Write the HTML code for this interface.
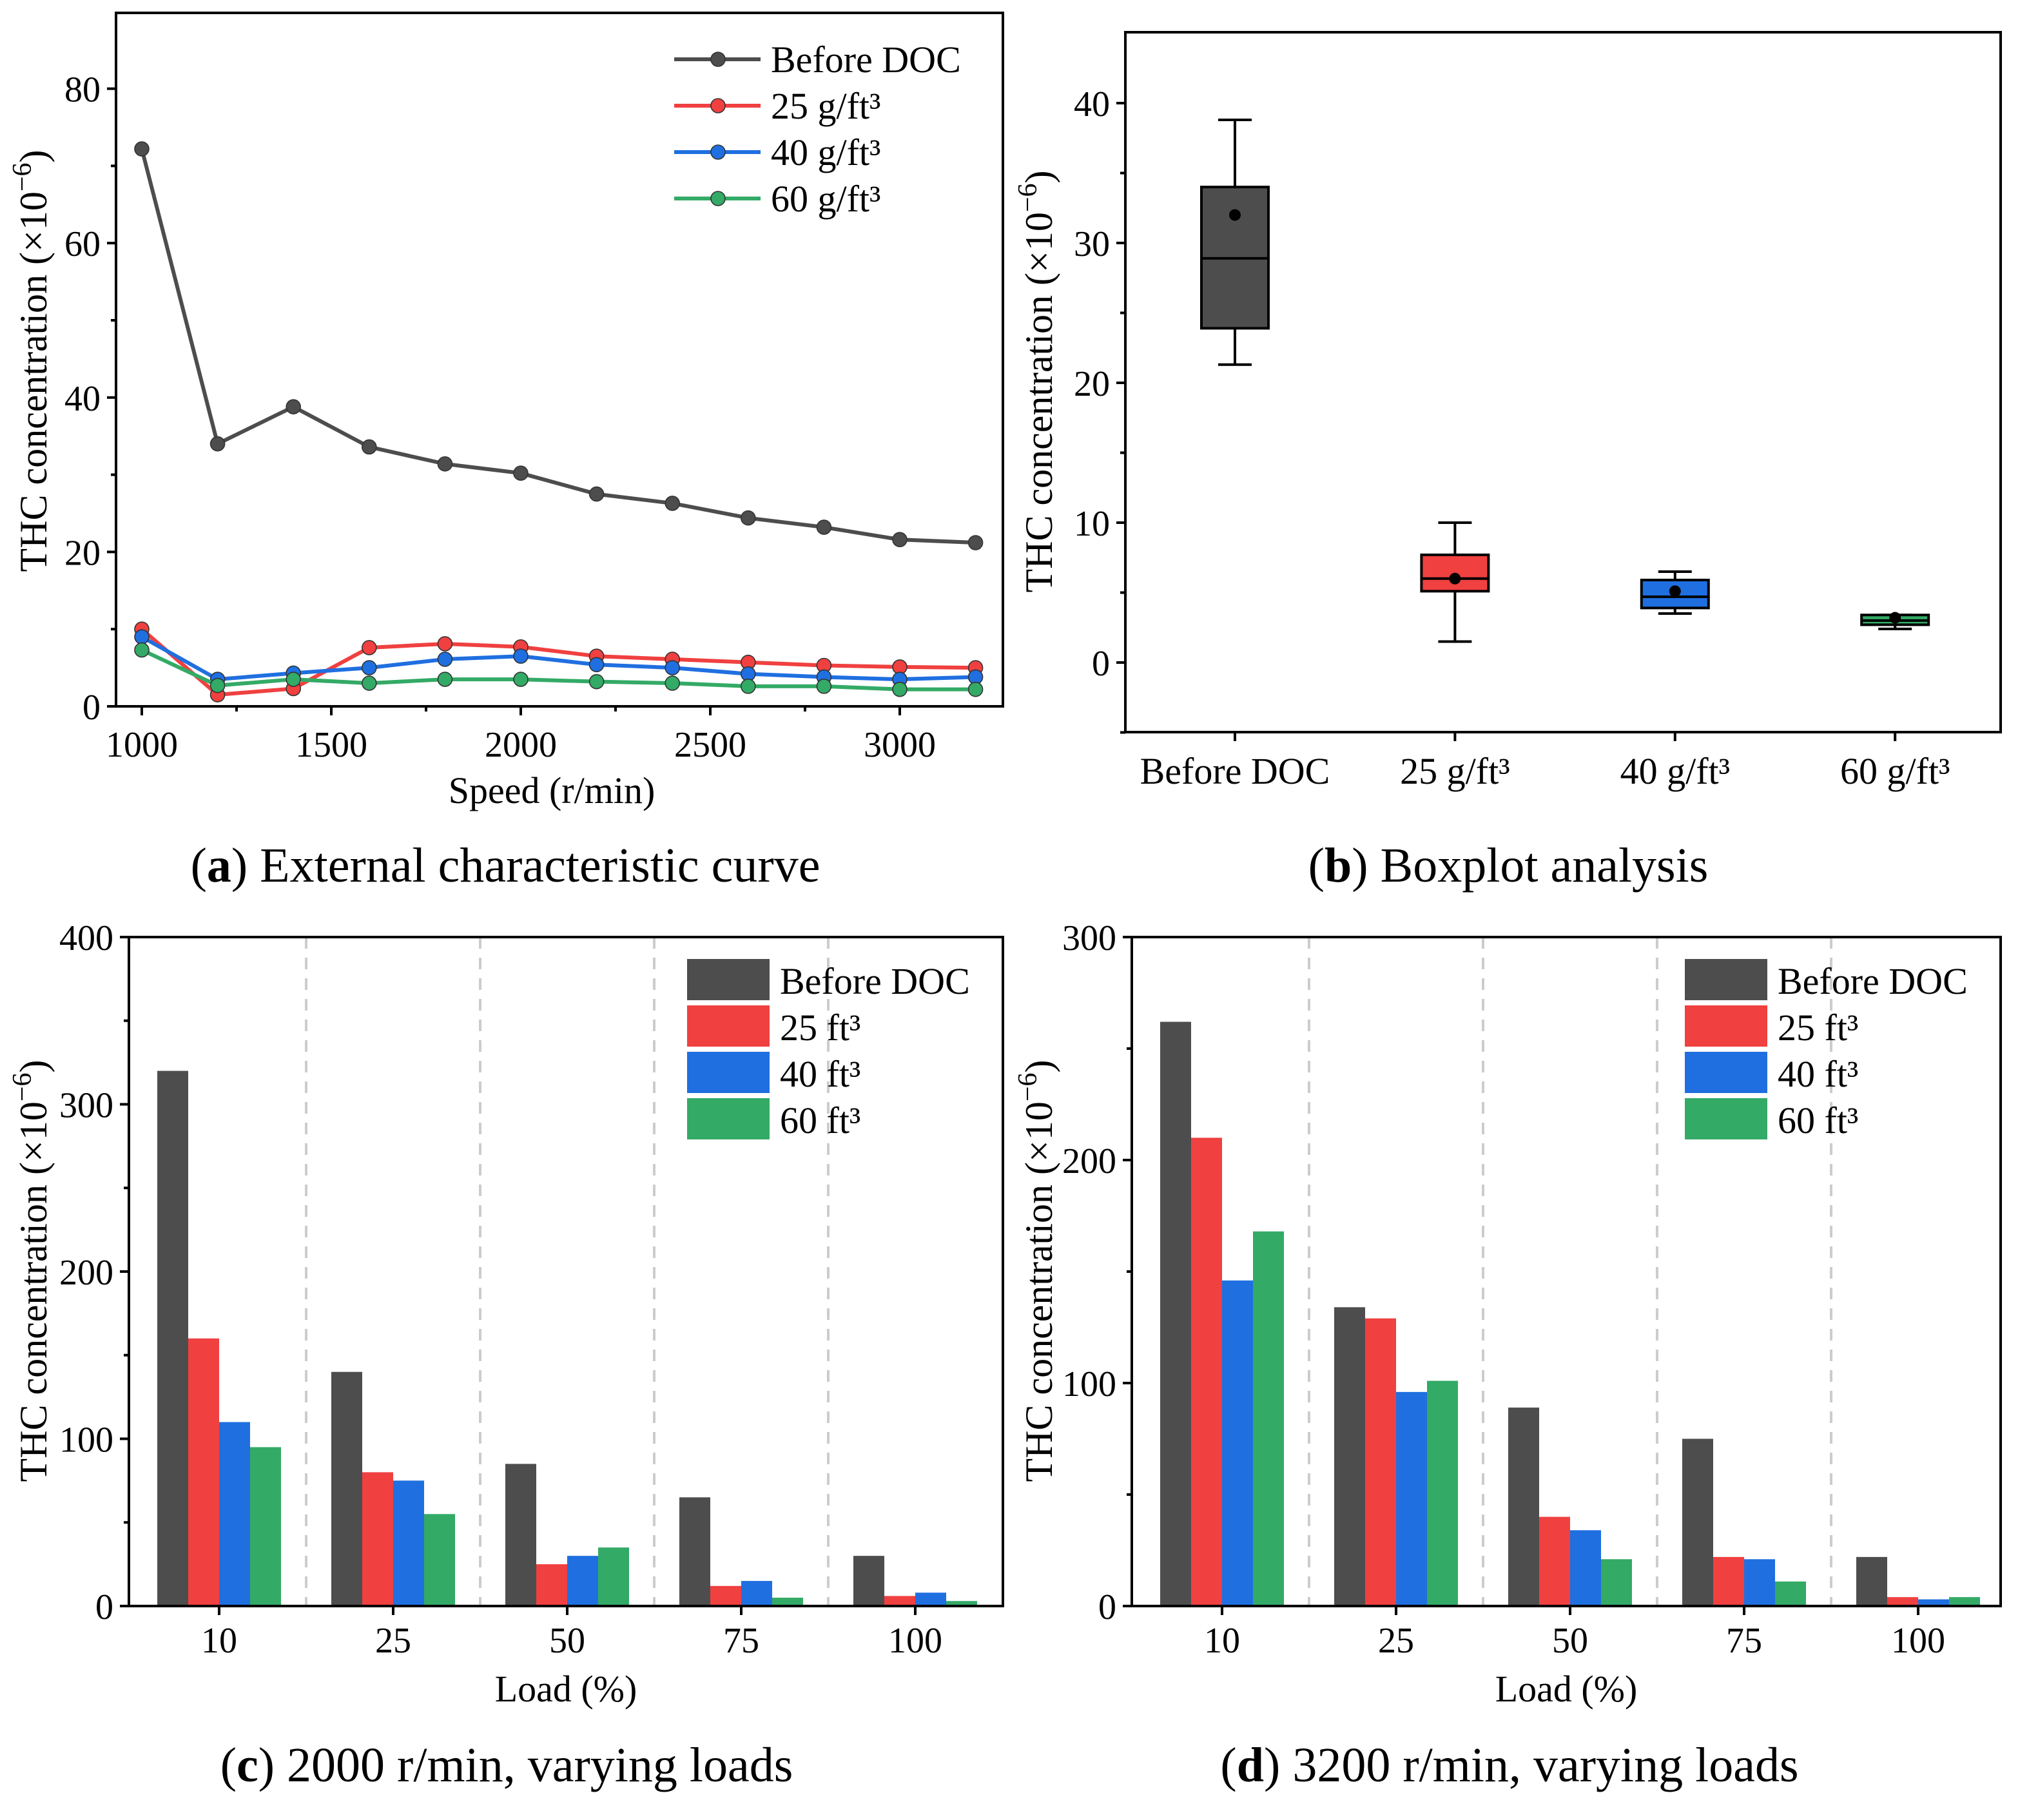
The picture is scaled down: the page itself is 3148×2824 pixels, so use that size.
<!DOCTYPE html>
<html><head><meta charset="utf-8"><style>
html,body{margin:0;padding:0;background:#fff}
svg{display:block}
text{font-family:"Liberation Serif",serif;fill:#000}
</style></head><body>
<svg id="fig" width="3148" height="2824" viewBox="0 0 1574 1412" preserveAspectRatio="none" xmlns="http://www.w3.org/2000/svg"></svg>
<script>
// Panel a data
const speeds=[1000,1200,1400,1600,1800,2000,2200,2400,2600,2800,3000,3200];
const lineBefore=[72.2,34,38.8,33.6,31.4,30.2,27.5,26.3,24.4,23.2,21.6,21.2];
const line25=[10,1.5,2.3,7.6,8.1,7.7,6.5,6.1,5.7,5.3,5.1,5.0];
const line40=[9,3.5,4.3,5,6.1,6.5,5.4,5,4.2,3.8,3.5,3.8];
const line60=[7.3,2.7,3.5,3,3.5,3.5,3.2,3,2.6,2.6,2.2,2.2];
const seriesNames=["Before DOC","25 g/ft³","40 g/ft³","60 g/ft³"];
const aXTicks=[1000,1500,2000,2500,3000];
const aYTicks=[0,20,40,60,80];
// Panel b data
const boxCats=["Before DOC","25 g/ft³","40 g/ft³","60 g/ft³"];
const boxMin=[21.3,1.5,3.5,2.4];
const boxQ1=[23.9,5.1,3.9,2.7];
const boxMed=[28.9,6.0,4.7,3.0];
const boxQ3=[34,7.7,5.9,3.4];
const boxMax=[38.8,10,6.5,3.4];
const boxMean=[32,6,5.1,3.2];
const bYTicks=[0,10,20,30,40];
// Panel c/d data
const loads=["10","25","50","75","100"];
const barNames=["Before DOC","25 ft³","40 ft³","60 ft³"];
const cBefore=[320,140,85,65,30];
const c25=[160,80,25,12,6];
const c40=[110,75,30,15,8];
const c60=[95,55,35,5,3];
const cYTicks=[0,100,200,300,400];
const dBefore=[262,134,89,75,22];
const d25=[210,129,40,22,4];
const d40=[146,96,34,21,3];
const d60=[168,101,21,11,4];
const dYTicks=[0,100,200,300];

const colors=["#4d4d4d","#f04040","#1f6fe0","#33aa66"];
const NS="http://www.w3.org/2000/svg";
const svg=document.getElementById('fig');
function mk(tag,attrs,parent){const e=document.createElementNS(NS,tag);for(const k in attrs)e.setAttribute(k,attrs[k]);(parent||svg).appendChild(e);return e;}
function txt(s,x,y,size,anchor,parent,rot){const t=mk('text',{x:x,y:y,'font-size':size,'text-anchor':anchor||'middle'},parent);if(rot)t.setAttribute('transform',`rotate(-90 ${x} ${y})`);t.textContent=s;return t;}

function ylabel(x,y){const t=txt('',x,y,30,'middle',svg,true);t.innerHTML='THC concentration (×10<tspan dy="-12" font-size="21">−6</tspan><tspan dy="12">)</tspan>';}

function frame(x0,y0,x1,y1,name){const r=mk('rect',{x:x0,y:y0,width:x1-x0,height:y1-y0,fill:'none',stroke:'#000','stroke-width':2});}

function yAxis(ticks,ys,x0,minor){ticks.forEach(v=>{const y=ys(v);mk('line',{x1:x0-7,x2:x0,y1:y,y2:y,stroke:'#000','stroke-width':2});const t=txt(String(v),x0-12,y+10,28,'end');});
 if(minor)for(let i=0;i<ticks.length-1;i++){const y=ys((ticks[i]+ticks[i+1])/2);mk('line',{x1:x0-4,x2:x0,y1:y,y2:y,stroke:'#000','stroke-width':2});}}

// ---------- Panel a ----------
const ax=v=>110+(v-1000)*0.294, ay=v=>548-v*5.99;
frame(90,10,778,548,'panel-a-plot-area');
yAxis(aYTicks,ay,90,true);
aXTicks.forEach(v=>{const x=ax(v);mk('line',{x1:x,x2:x,y1:548,y2:555,stroke:'#000','stroke-width':2});const t=txt(String(v),x,587,28);});
aXTicks.slice(0,4).forEach(v=>{const x=ax(v+250);mk('line',{x1:x,x2:x,y1:548,y2:552,stroke:'#000','stroke-width':2});});
[lineBefore,line25,line40,line60].forEach((arr,si)=>{
 const g=mk('g',{});
 
 
 mk('polyline',{points:arr.map((v,i)=>ax(speeds[i])+','+ay(v)).join(' '),fill:'none',stroke:colors[si],'stroke-width':3},g);
 arr.forEach((v,i)=>{const c=mk('circle',{cx:ax(speeds[i]),cy:ay(v),r:5.5,fill:colors[si],stroke:'#333','stroke-width':0.8},g);});
});
seriesNames.forEach((n,i)=>{const y=46+i*36;const g=mk('g',{});
 mk('line',{x1:523,x2:590,y1:y,y2:y,stroke:colors[i],'stroke-width':3},g);mk('circle',{cx:557,cy:y,r:5.5,fill:colors[i],stroke:'#333','stroke-width':0.8},g);txt(n,598,y+10,29,'start',g);});
ylabel(36,280);
{const t=txt('Speed (r/min)',428,623,29);}
{const t=txt('',392,684,38);t.innerHTML='(<tspan font-weight="bold">a</tspan>) External characteristic curve';}

// ---------- Panel b ----------
const bx=i=>958+i*170.7, by=v=>514-v*10.85;
frame(873,25,1552,568,'panel-b-plot-area');
yAxis(bYTicks,by,873,true);
{const y=by(-5);mk('line',{x1:869,x2:873,y1:y,y2:y,stroke:'#000','stroke-width':2});}
boxCats.forEach((n,i)=>{const x=bx(i);mk('line',{x1:x,x2:x,y1:568,y2:575,stroke:'#000','stroke-width':2});const t=txt(n,x,608,29);
 const g=mk('g',{});
 mk('line',{x1:x,x2:x,y1:by(boxMax[i]),y2:by(boxMin[i]),stroke:'#000','stroke-width':2},g);
 mk('line',{x1:x-13,x2:x+13,y1:by(boxMax[i]),y2:by(boxMax[i]),stroke:'#000','stroke-width':2},g);
 mk('line',{x1:x-13,x2:x+13,y1:by(boxMin[i]),y2:by(boxMin[i]),stroke:'#000','stroke-width':2},g);
 mk('rect',{x:x-26,y:by(boxQ3[i]),width:52,height:by(boxQ1[i])-by(boxQ3[i]),fill:colors[i],stroke:'#000','stroke-width':2},g);
 mk('line',{x1:x-26,x2:x+26,y1:by(boxMed[i]),y2:by(boxMed[i]),stroke:'#000','stroke-width':2},g);
 mk('circle',{cx:x,cy:by(boxMean[i]),r:4.5,fill:'#000'},g);});
ylabel(816,296);
{const t=txt('',1170,684,38);t.innerHTML='(<tspan font-weight="bold">b</tspan>) Boxplot analysis';}

// ---------- Panels c, d ----------
function barPanel(x0,x1,gx,ys,ticks,data,capX,capHTML,tag){
 frame(x0,727,x1,1246,'panel-'+tag+'-plot-area');
 yAxis(ticks,ys,x0,true);
 loads.forEach((l,i)=>{const cx=gx(i);mk('line',{x1:cx,x2:cx,y1:1246,y2:1253,stroke:'#000','stroke-width':2});const t=txt(l,cx,1282,28);
  if(i<loads.length-1){const sx=cx+67.5;const d=mk('line',{x1:sx,x2:sx,y1:727,y2:1246,stroke:'#ccc','stroke-width':2,'stroke-dasharray':'9,7'});}
  data.forEach((arr,si)=>{const r=mk('rect',{x:cx-48+si*24,y:ys(arr[i]),width:24,height:1246-ys(arr[i]),fill:colors[si]});});});
 frame(x0,727,x1,1246,'panel-'+tag+'-frame');
 const lx=x1-245;
 barNames.forEach((n,i)=>{const y=744+i*36;const g=mk('g',{});mk('rect',{x:lx,y:y,width:64,height:32,fill:colors[i]},g);txt(n,lx+72,y+27,29,'start',g);});
 const t=txt('',capX,1382,38);t.innerHTML=capHTML;
 const xt=txt('Load (%)',(x0+x1)/2,1320,29);
}
barPanel(100,778,i=>170+i*135,v=>1246-v*1.2975,cYTicks,[cBefore,c25,c40,c60],393,'(<tspan font-weight="bold">c</tspan>) 2000 r/min, varying loads','c');
ylabel(36,986);
barPanel(878,1552,i=>948+i*135,v=>1246-v*1.73,dYTicks,[dBefore,d25,d40,d60],1171,'(<tspan font-weight="bold">d</tspan>) 3200 r/min, varying loads','d');
ylabel(816,986);
</script>
</body></html>
